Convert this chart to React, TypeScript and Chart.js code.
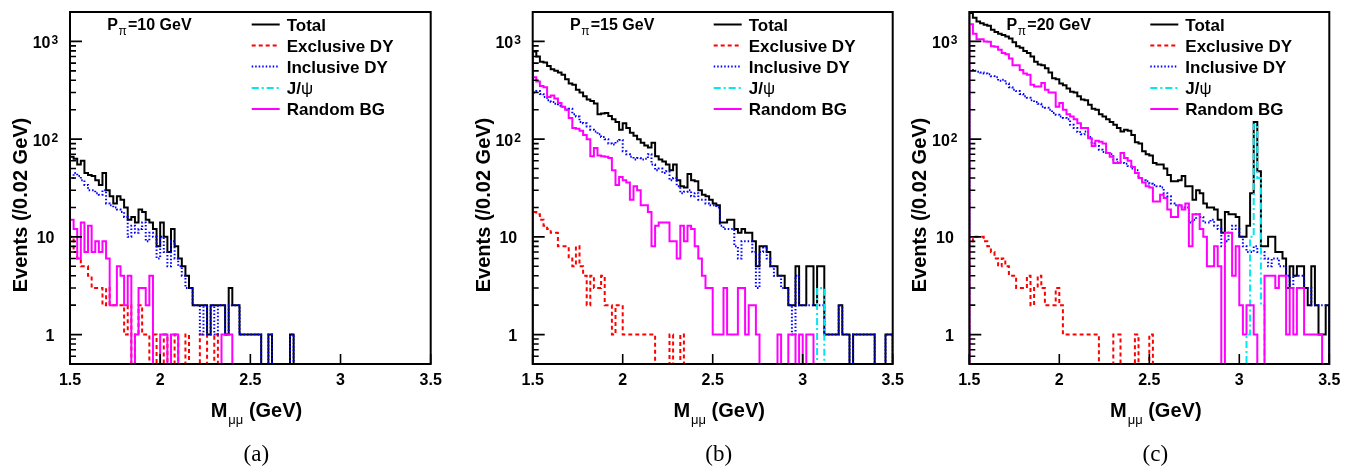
import React, { useEffect, useRef } from 'react';
import { Chart, registerables } from 'chart.js';

Chart.register(...registerables);

// ---------- binning, axes, labels ----------
const BIN_LOW = 1.5;
const BIN_WIDTH = 0.02;
const X_MIN = 1.5;
const X_MAX = 3.5;
const Y_MIN = 0.5;
const Y_MAX = 2000;
const ZERO_FLOOR = 0.3; // empty bins fall below the frame (as ROOT draws them on a log axis)
const X_TICKS = [1.5, 2, 2.5, 3, 3.5];
const X_TICK_LABELS = ['1.5', '2', '2.5', '3', '3.5'];
const Y_MAJOR_TICKS = [1, 10, 100, 1000];
const Y_TICK_BASES = ['1', '10', '10', '10'];
const Y_TICK_EXPONENTS = ['', '', '2', '3'];
const Y_MINOR_TICKS = [0.6, 0.7, 0.8, 0.9, 2, 3, 4, 5, 6, 7, 8, 9, 20, 30, 40, 50, 60, 70, 80, 90, 200, 300, 400, 500, 600, 700, 800, 900, 2000];
const SERIES_NAMES = ['Total', 'Exclusive DY', 'Inclusive DY', 'J/ψ', 'Random BG'];
const BEAM_MOMENTA = ['10', '15', '20'];
const CAPTIONS = ['(a)', '(b)', '(c)'];
const Y_TITLE = 'Events (/0.02 GeV)';

// ---------- panel (a): P_pi = 10 GeV ----------
const totalA = [
  66, 63, 55, 60, 45, 43, 42, 38, 34, 45,
  30, 26, 22, 26, 24, 20, 15, 16, 14, 19,
  18, 15, 14, 12, 8, 14, 10, 7, 12, 8,
  6, 5, 4, 3, 2, 2, 2, 2, 1, 2,
  2, 2, 2, 1, 3, 2, 2, 1, 1, 1,
  1, 1, 1, 0, 0, 1, 0, 0, 0, 0,
  0, 1, 0, 0, 0, 0, 0, 0, 0, 0,
  0, 0, 0, 0, 0, 0, 0, 0, 0, 0,
  0, 0, 0, 0, 0, 0, 0, 0, 0, 0,
  0, 0, 0, 0, 0, 0, 0, 0, 0, 0,
];
const exclA = [
  10, 7, 6, 5, 5, 4, 3, 3, 3, 2,
  3, 2, 2, 2, 2, 1, 2, 0, 1, 2,
  1, 1, 0, 1, 0, 0, 1, 0, 0, 1,
  0, 0, 1, 0, 0, 0, 1, 1, 0, 0,
  1, 0, 0, 0, 0, 0, 0, 0, 0, 0,
  0, 0, 0, 0, 0, 0, 0, 0, 0, 0,
  0, 0, 0, 0, 0, 0, 0, 0, 0, 0,
  0, 0, 0, 0, 0, 0, 0, 0, 0, 0,
  0, 0, 0, 0, 0, 0, 0, 0, 0, 0,
  0, 0, 0, 0, 0, 0, 0, 0, 0, 0,
];
const inclA = [
  40, 45, 42, 38, 34, 30, 30, 28, 27, 30,
  22, 21, 20, 19, 18, 16, 10, 13, 11, 12,
  14, 9, 11, 10, 6, 10, 7, 5, 9, 6,
  5, 4, 3, 3, 2, 2, 1, 2, 1, 2,
  1, 2, 2, 1, 2, 2, 2, 1, 1, 1,
  1, 1, 1, 0, 0, 1, 0, 0, 0, 0,
  0, 1, 0, 0, 0, 0, 0, 0, 0, 0,
  0, 0, 0, 0, 0, 0, 0, 0, 0, 0,
  0, 0, 0, 0, 0, 0, 0, 0, 0, 0,
  0, 0, 0, 0, 0, 0, 0, 0, 0, 0,
];
const jpsiA = [
  0, 0, 0, 0, 0, 0, 0, 0, 0, 0,
  0, 0, 0, 0, 0, 0, 0, 0, 0, 0,
  0, 0, 0, 0, 0, 0, 0, 0, 0, 0,
  0, 0, 0, 0, 0, 0, 0, 0, 0, 0,
  0, 0, 0, 0, 0, 0, 0, 0, 0, 0,
  0, 0, 0, 0, 0, 0, 0, 0, 0, 0,
  0, 0, 0, 0, 0, 0, 0, 0, 0, 0,
  0, 0, 0, 0, 0, 0, 0, 0, 0, 0,
  0, 0, 0, 0, 0, 0, 0, 0, 0, 0,
  0, 0, 0, 0, 0, 0, 0, 0, 0, 0,
];
const randA = [
  15, 12, 6, 14, 7, 13, 7, 9, 7, 9,
  6, 2, 2, 5, 4, 2, 4, 0, 1, 3,
  3, 2, 4, 0, 0, 1, 1, 0, 1, 1,
  0, 0, 0, 0, 0, 0, 0, 0, 0, 0,
  0, 0, 1, 1, 1, 0, 0, 0, 0, 0,
  0, 0, 0, 0, 0, 0, 0, 0, 0, 0,
  0, 0, 0, 0, 0, 0, 0, 0, 0, 0,
  0, 0, 0, 0, 0, 0, 0, 0, 0, 0,
  0, 0, 0, 0, 0, 0, 0, 0, 0, 0,
  0, 0, 0, 0, 0, 0, 0, 0, 0, 0,
];

// ---------- panel (b): P_pi = 15 GeV ----------
const totalB = [
  790, 700, 620, 610, 560, 520, 500, 480, 455, 410,
  370, 360, 320, 300, 275, 255, 245, 232, 180, 183,
  185, 172, 160, 150, 125, 145, 130, 116, 108, 100,
  92, 86, 82, 92, 67, 62, 59, 55, 48, 55,
  38, 33, 32, 44, 38, 37, 30, 27, 26, 24,
  22, 21, 14, 14, 15, 15, 12, 11, 12, 11,
  11, 9, 5, 8, 8, 7, 5, 5, 4, 4,
  3, 2, 2, 5, 2, 2, 5, 5, 2, 5,
  5, 1, 1, 1, 1, 2, 1, 1, 0, 1,
  1, 1, 1, 1, 1, 0, 0, 0, 1, 1,
];
const exclB = [
  18, 17, 15, 13, 12, 11, 11, 8, 8, 8,
  6, 5, 8, 5, 4, 2, 4, 3, 3, 4,
  2, 2, 1, 2, 2, 1, 1, 1, 1, 1,
  1, 1, 1, 1, 0, 0, 0, 0, 1, 0,
  0, 1, 0, 0, 0, 0, 0, 0, 0, 0,
  0, 0, 0, 0, 0, 0, 0, 0, 0, 0,
  0, 0, 0, 0, 0, 0, 0, 0, 0, 0,
  0, 0, 0, 0, 0, 0, 0, 0, 0, 0,
  0, 0, 0, 0, 0, 0, 0, 0, 0, 0,
  0, 0, 0, 0, 0, 0, 0, 0, 0, 0,
];
const inclB = [
  300, 310, 290, 270, 250, 240, 230, 220, 215, 200,
  205, 180, 170, 150, 145, 135, 125, 120, 112, 105,
  100, 90, 88, 95, 98, 75, 70, 66, 62, 64,
  62, 63, 70, 55, 48, 50, 45, 47, 38, 40,
  33, 28, 29, 30, 26, 28, 24, 24, 22, 21,
  21, 20, 13, 12, 12, 12, 8, 6, 9, 9,
  9, 7, 3, 7, 8, 6, 5, 4, 4, 3,
  3, 2, 1, 4, 2, 2, 2, 2, 2, 2,
  2, 1, 1, 1, 1, 2, 1, 1, 0, 1,
  1, 1, 1, 1, 1, 0, 0, 0, 1, 1,
];
const jpsiB = [
  0, 0, 0, 0, 0, 0, 0, 0, 0, 0,
  0, 0, 0, 0, 0, 0, 0, 0, 0, 0,
  0, 0, 0, 0, 0, 0, 0, 0, 0, 0,
  0, 0, 0, 0, 0, 0, 0, 0, 0, 0,
  0, 0, 0, 0, 0, 0, 0, 0, 0, 0,
  0, 0, 0, 0, 0, 0, 0, 0, 0, 0,
  0, 0, 0, 0, 0, 0, 0, 0, 0, 0,
  0, 0, 0, 0, 0, 0, 0, 0, 0, 3,
  3, 0, 0, 0, 0, 0, 0, 0, 0, 0,
  0, 0, 0, 0, 0, 0, 0, 0, 0, 0,
];
const randB = [
  430, 390, 350, 340, 270, 280, 260, 235, 215, 200,
  165, 130, 128, 122, 110, 100, 67, 81, 68, 67,
  66, 64, 48, 34, 41, 38, 36, 24, 33, 30,
  21, 21, 18, 8, 13, 14, 14, 14, 9, 9,
  6, 13, 9, 13, 12, 8, 6, 4, 3, 3,
  1, 1, 1, 3, 1, 1, 1, 3, 3, 1,
  2, 2, 1, 0, 0, 0, 0, 0, 1, 0,
  0, 1, 1, 0, 1, 0, 1, 1, 0, 0,
  0, 0, 0, 0, 0, 0, 0, 0, 0, 0,
  0, 0, 0, 0, 0, 0, 0, 0, 0, 0,
];

// ---------- panel (c): P_pi = 20 GeV ----------
const totalC = [
  1950, 1750, 1600, 1530, 1480, 1450, 1320, 1250, 1200, 1160,
  1120, 1070, 980, 890, 860, 800, 760, 700, 620, 580,
  570, 530, 480, 420, 410, 370, 355, 330, 305, 300,
  275, 255, 250, 225, 205, 200, 180, 170, 160, 150,
  140, 130, 120, 125, 122, 110, 93, 90, 75, 70,
  68, 57, 55, 55, 50, 43, 37, 37, 38, 42,
  33, 33, 24, 30, 28, 22, 20, 20, 19, 15,
  11, 18, 17, 17, 16, 10, 10, 13, 28, 150,
  47, 8, 8, 10, 10, 7, 7, 6, 3, 5,
  4, 5, 5, 3, 2, 5, 2, 1, 1, 2,
];
const exclC = [
  9, 10, 10, 10, 9, 8, 7, 6, 5, 6,
  5, 4, 4, 3, 3, 3, 4, 2, 3, 4,
  3, 2, 2, 2, 3, 2, 1, 1, 1, 1,
  1, 1, 1, 1, 1, 1, 0, 0, 0, 0,
  1, 1, 0, 0, 0, 0, 1, 0, 0, 0,
  1, 0, 0, 0, 0, 0, 0, 0, 0, 0,
  0, 0, 0, 0, 0, 0, 0, 0, 0, 0,
  0, 0, 0, 0, 0, 0, 0, 0, 0, 0,
  0, 0, 0, 0, 0, 0, 0, 0, 0, 0,
  0, 0, 0, 0, 0, 0, 0, 0, 0, 0,
];
const inclC = [
  510, 500, 490, 480, 470, 460, 440, 430, 395, 405,
  370, 340, 320, 310, 290, 275, 265, 250, 240, 230,
  215, 210, 200, 185, 178, 170, 165, 160, 140, 130,
  118, 112, 120, 105, 90, 85, 78, 74, 72, 70,
  62, 58, 57, 56, 53, 50, 48, 40, 38, 37,
  35, 34, 33, 32, 28, 26, 22, 21, 21, 20,
  20, 14, 15, 17, 16, 14, 14, 15, 13, 12,
  8, 9, 11, 13, 12, 10, 8, 7, 7, 8,
  7, 7, 6, 5, 6, 6, 5, 5, 4, 3,
  4, 4, 4, 3, 3, 2, 2, 2, 2, 2,
];
const jpsiC = [
  0, 0, 0, 0, 0, 0, 0, 0, 0, 0,
  0, 0, 0, 0, 0, 0, 0, 0, 0, 0,
  0, 0, 0, 0, 0, 0, 0, 0, 0, 0,
  0, 0, 0, 0, 0, 0, 0, 0, 0, 0,
  0, 0, 0, 0, 0, 0, 0, 0, 0, 0,
  0, 0, 0, 0, 0, 0, 0, 0, 0, 0,
  0, 0, 0, 0, 0, 0, 0, 0, 0, 0,
  0, 0, 0, 0, 0, 0, 0, 1, 10, 140,
  40, 2, 0, 0, 0, 0, 0, 0, 0, 0,
  0, 0, 0, 0, 0, 0, 0, 0, 0, 0,
];
const randC = [
  1500, 1200, 1050, 1050, 1000, 990, 890, 880, 820, 760,
  740, 670, 570, 570, 510, 470, 455, 360, 345, 345,
  375, 320, 300, 300, 215, 235, 200, 180, 170, 160,
  145, 130, 130, 102, 85, 96, 94, 90, 72, 66,
  57, 57, 72, 64, 60, 52, 45, 40, 36, 33,
  32, 23, 23, 27, 25, 19, 16, 16, 21, 19,
  22, 8, 17, 17, 12, 10, 5, 5, 8, 5,
  0, 11, 11, 4, 8, 2, 1, 2, 2, 1,
  0, 0, 4, 4, 4, 3, 4, 4, 1, 3,
  1, 3, 3, 1, 1, 1, 1, 1, 0, 0,
];

const PANEL_SERIES = [
  [totalA, exclA, inclA, jpsiA, randA],
  [totalB, exclB, inclB, jpsiB, randB],
  [totalC, exclC, inclC, jpsiC, randC],
];

// ---------- styling / layout ----------
const W = 1363;
const H = 470;
const FRAME_TOP = 12;
const FRAME_BOTTOM = 364;
const PANEL_FRAMES = [
  { left: 70, right: 430.7 },
  { left: 532.7, right: 892.7 },
  { left: 969.3, right: 1329.3 },
];
const SERIES_STYLES = [
  { color: '#000000', width: 2, dash: [] as number[], order: 5 },
  { color: '#ff0000', width: 2, dash: [4, 3], order: 4 },
  { color: '#0000ff', width: 2, dash: [1.5, 2], order: 3 },
  { color: '#00e8f0', width: 2, dash: [7, 3, 2, 3], order: 2 },
  { color: '#ff00ff', width: 2, dash: [] as number[], order: 1 },
];
const SANS = '"Liberation Sans", Arial, Helvetica, sans-serif';
const SERIF = '"Liberation Serif", "Times New Roman", serif';

function histPoints(values: number[]) {
  const pts: { x: number; y: number }[] = [{ x: BIN_LOW, y: ZERO_FLOOR }];
  values.forEach((v, i) => {
    pts.push({ x: BIN_LOW + i * BIN_WIDTH, y: v > 0 ? v : ZERO_FLOOR });
  });
  const last = values[values.length - 1];
  const end = BIN_LOW + values.length * BIN_WIDTH;
  pts.push({ x: end, y: last > 0 ? last : ZERO_FLOOR });
  pts.push({ x: end, y: ZERO_FLOOR });
  return pts;
}

function decorations(p: number) {
  return {
    id: 'rootDecor' + p,
    afterDatasetsDraw(chart: any) {
      const { ctx, chartArea: a, scales } = chart;
      const xs = scales.x;
      const ys = scales.y;
      ctx.save();
      ctx.setLineDash([]);
      ctx.strokeStyle = '#000';
      ctx.fillStyle = '#000';

      // frame
      ctx.lineWidth = 2;
      ctx.strokeRect(a.left, a.top, a.right - a.left, a.bottom - a.top);

      // ticks
      ctx.lineWidth = 1.6;
      ctx.beginPath();
      Y_MAJOR_TICKS.forEach((v) => {
        const y = ys.getPixelForValue(v);
        ctx.moveTo(a.left, y);
        ctx.lineTo(a.left + 12, y);
      });
      Y_MINOR_TICKS.forEach((v) => {
        const y = ys.getPixelForValue(v);
        ctx.moveTo(a.left, y);
        ctx.lineTo(a.left + 6, y);
      });
      X_TICKS.forEach((v) => {
        const x = xs.getPixelForValue(v);
        ctx.moveTo(x, a.bottom);
        ctx.lineTo(x, a.bottom - 10);
      });
      ctx.stroke();

      // y tick labels
      ctx.textBaseline = 'alphabetic';
      Y_MAJOR_TICKS.forEach((v, i) => {
        const y = ys.getPixelForValue(v) + 6.5;
        ctx.font = `bold 16px ${SANS}`;
        if (Y_TICK_EXPONENTS[i]) {
          ctx.textAlign = 'right';
          ctx.fillText(Y_TICK_BASES[i], a.left - 19.5, y);
          ctx.textAlign = 'left';
          ctx.font = `bold 12px ${SANS}`;
          ctx.fillText(Y_TICK_EXPONENTS[i], a.left - 18.5, y - 4);
        } else {
          ctx.textAlign = 'right';
          ctx.fillText(Y_TICK_BASES[i], a.left - 15.5, y);
        }
      });

      // x tick labels
      ctx.font = `bold 16px ${SANS}`;
      ctx.textAlign = 'center';
      X_TICKS.forEach((v, i) => {
        ctx.fillText(X_TICK_LABELS[i], xs.getPixelForValue(v), 385);
      });

      // x title  M_{mu mu} (GeV)
      ctx.textAlign = 'left';
      let tx = a.left + 140.7;
      ctx.font = `bold 20px ${SANS}`;
      ctx.fillText('M', tx, 417);
      tx += ctx.measureText('M').width + 1;
      ctx.font = `13px ${SANS}`;
      ctx.fillText('μμ', tx, 424);
      tx += ctx.measureText('μμ').width;
      ctx.font = `bold 20px ${SANS}`;
      ctx.fillText(' (GeV)', tx, 417);

      // y title
      ctx.save();
      ctx.translate(a.left - 43, 205);
      ctx.rotate(-Math.PI / 2);
      ctx.textAlign = 'center';
      ctx.font = `bold 20px ${SANS}`;
      ctx.fillText(Y_TITLE, 0, 0);
      ctx.restore();

      // P_pi label
      ctx.textAlign = 'left';
      let px = a.left + 37.3;
      ctx.font = `bold 16px ${SANS}`;
      ctx.fillText('P', px, 30);
      px += ctx.measureText('P').width + 0.5;
      ctx.font = `12px ${SANS}`;
      ctx.fillText('π', px, 35);
      ctx.font = `bold 16px ${SANS}`;
      ctx.fillText('=' + BEAM_MOMENTA[p] + ' GeV', a.left + 58, 30);

      // legend
      const rowY = [24.5, 45.5, 66.5, 88, 109];
      SERIES_NAMES.forEach((name, i) => {
        const st = SERIES_STYLES[i];
        ctx.strokeStyle = st.color;
        ctx.lineWidth = 2;
        ctx.setLineDash(st.dash);
        ctx.beginPath();
        ctx.moveTo(a.right - 179, rowY[i]);
        ctx.lineTo(a.right - 151, rowY[i]);
        ctx.stroke();
        ctx.setLineDash([]);
        ctx.fillStyle = '#000';
        const lx = a.right - 144;
        if (name === 'J/ψ') {
          ctx.font = `bold 17px ${SANS}`;
          ctx.fillText('J/', lx, rowY[i] + 6);
          const w = ctx.measureText('J/').width;
          ctx.font = `17px ${SANS}`;
          ctx.fillText('ψ', lx + w, rowY[i] + 6);
        } else {
          ctx.font = `bold 17px ${SANS}`;
          ctx.fillText(name, lx, rowY[i] + 6);
        }
      });

      // caption
      ctx.font = `23px ${SERIF}`;
      ctx.textAlign = 'center';
      ctx.fillText(CAPTIONS[p], (a.left + a.right) / 2 + 6, 461);

      ctx.restore();
    },
  };
}

function Panel({ index }: { index: number }) {
  const ref = useRef<HTMLCanvasElement | null>(null);
  useEffect(() => {
    const canvas = ref.current;
    if (!canvas) return;
    const frame = PANEL_FRAMES[index];
    const datasets = PANEL_SERIES[index].map((vals, i) => ({
      label: SERIES_NAMES[i],
      data: histPoints(vals),
      stepped: true,
      borderColor: SERIES_STYLES[i].color,
      borderWidth: SERIES_STYLES[i].width,
      borderDash: SERIES_STYLES[i].dash,
      fill: false,
      pointRadius: 0,
      pointHoverRadius: 0,
      tension: 0,
      order: SERIES_STYLES[i].order,
    }));
    const chart = new Chart(canvas, {
      type: 'line',
      data: { datasets } as any,
      options: {
        animation: false,
        responsive: false,
        devicePixelRatio: 1,
        events: [],
        layout: {
          padding: {
            left: frame.left,
            right: W - frame.right,
            top: FRAME_TOP,
            bottom: H - FRAME_BOTTOM,
          },
        },
        plugins: {
          legend: { display: false },
          tooltip: { enabled: false },
        },
        scales: {
          x: { type: 'linear', min: X_MIN, max: X_MAX, display: false },
          y: { type: 'logarithmic', min: Y_MIN, max: Y_MAX, display: false },
        },
      } as any,
      plugins: [decorations(index)],
    });
    return () => chart.destroy();
  }, [index]);
  return (
    <canvas
      ref={ref}
      width={W}
      height={H}
      style={{ position: 'absolute', left: 0, top: 0, width: W, height: H }}
    />
  );
}

export default function App() {
  return (
    <div
      style={{
        position: 'fixed',
        left: 0,
        top: 0,
        width: W,
        height: H,
        background: '#ffffff',
        overflow: 'hidden',
      }}
    >
      {[0, 1, 2].map((i) => (
        <Panel key={i} index={i} />
      ))}
    </div>
  );
}
